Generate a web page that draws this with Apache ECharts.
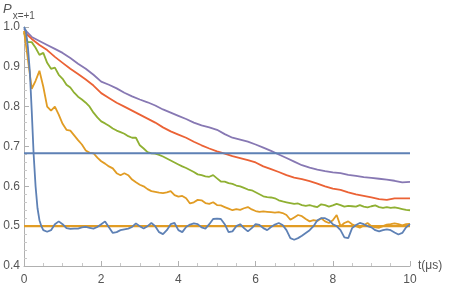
<!DOCTYPE html>
<html><head><meta charset="utf-8">
<script src="https://cdn.jsdelivr.net/npm/echarts@6/dist/echarts.min.js"></script>
<style>html,body{margin:0;padding:0;background:#fff}#c{width:450px;height:292px}</style>
</head><body><div id="c"></div>
<script>
// x ticks and y ticks
const xTicks = [0, 2, 4, 6, 8, 10];
const yTicks = [0.4, 0.5, 0.6, 0.7, 0.8, 0.9, 1.0];
// reference levels
const blueLevel = 0.683;
const orangeLevel = 0.5;
// blue curve: head sampled every 0.05 (t=0..0.5), tail every 0.1 (t=0.6..10)
const blueHead = [1.0,0.99,0.95,0.89,0.79,0.68,0.60,0.545,0.515,0.50,0.49];
const blueTail = [0.486,0.49,0.505,0.512,0.505,0.495,0.493,0.494,0.494,0.497,0.498,0.496,0.494,0.498,
 0.505,0.512,0.497,0.483,0.485,0.49,0.492,0.494,0.498,0.507,0.50,0.494,0.50,0.508,0.50,0.485,0.48,0.49,
 0.505,0.508,0.49,0.485,0.498,0.504,0.507,0.505,0.497,0.494,0.505,0.518,0.519,0.518,0.505,0.485,0.487,
 0.50,0.505,0.495,0.487,0.495,0.505,0.503,0.495,0.49,0.498,0.504,0.508,0.503,0.49,0.47,0.466,0.47,0.476,
 0.483,0.49,0.50,0.515,0.52,0.52,0.515,0.505,0.50,0.49,0.472,0.47,0.495,0.503,0.508,0.505,0.50,0.497,
 0.49,0.487,0.49,0.492,0.49,0.484,0.479,0.483,0.497,0.505];
// orange curve, t = 0..10 step 0.1
const orangeP = [0.99,0.92,0.845,0.865,0.89,0.85,0.80,0.79,0.80,0.78,0.757,0.742,0.74,0.728,0.716,0.705,
 0.69,0.684,0.683,0.672,0.663,0.657,0.65,0.645,0.633,0.628,0.633,0.628,0.617,0.61,0.604,0.60,0.593,0.588,
 0.586,0.584,0.583,0.585,0.588,0.578,0.574,0.576,0.57,0.557,0.56,0.566,0.565,0.558,0.556,0.56,0.553,0.552,
 0.548,0.544,0.54,0.543,0.541,0.545,0.548,0.542,0.538,0.536,0.537,0.536,0.535,0.534,0.535,0.533,0.528,
 0.516,0.522,0.528,0.525,0.518,0.512,0.515,0.513,0.52,0.512,0.508,0.515,0.528,0.50,0.508,0.512,0.505,
 0.50,0.496,0.502,0.508,0.50,0.497,0.496,0.50,0.504,0.505,0.507,0.505,0.502,0.505,0.506];
// green curve, t = 0..10 step 0.1
const greenP = [0.985,0.962,0.962,0.948,0.93,0.935,0.91,0.895,0.898,0.88,0.87,0.855,0.848,0.835,0.825,
 0.818,0.81,0.80,0.785,0.773,0.763,0.758,0.752,0.745,0.74,0.736,0.732,0.726,0.722,0.722,0.703,0.695,0.686,
 0.683,0.682,0.679,0.675,0.67,0.665,0.66,0.655,0.65,0.646,0.641,0.636,0.63,0.628,0.625,0.624,0.628,0.62,
 0.612,0.612,0.608,0.606,0.602,0.60,0.596,0.592,0.59,0.585,0.58,0.575,0.573,0.572,0.57,0.565,0.562,0.56,
 0.558,0.556,0.557,0.553,0.551,0.553,0.55,0.548,0.555,0.553,0.549,0.552,0.556,0.553,0.549,0.551,0.55,
 0.549,0.553,0.549,0.547,0.55,0.552,0.548,0.546,0.548,0.546,0.547,0.545,0.543,0.541,0.54];
// red curve, t = 0..10 step 0.2
const redP = [0.988,0.97,0.955,0.942,0.925,0.91,0.895,0.882,0.868,0.853,0.834,0.822,0.81,0.80,0.79,0.78,
 0.77,0.76,0.748,0.738,0.73,0.722,0.712,0.703,0.695,0.688,0.682,0.676,0.671,0.666,0.66,0.65,0.643,0.636,
 0.628,0.622,0.618,0.613,0.607,0.60,0.594,0.591,0.585,0.58,0.576,0.572,0.568,0.566,0.57,0.57,0.57];
// purple curve, t = 0..10 step 0.2
const purpleP = [0.995,0.975,0.965,0.955,0.945,0.935,0.922,0.908,0.895,0.88,0.863,0.855,0.846,0.835,0.826,
 0.818,0.811,0.803,0.793,0.785,0.777,0.769,0.76,0.753,0.748,0.742,0.731,0.722,0.717,0.712,0.705,0.697,
 0.689,0.68,0.671,0.662,0.653,0.647,0.642,0.638,0.635,0.633,0.629,0.626,0.623,0.621,0.619,0.617,0.614,
 0.61,0.611];

function pairs(vals, t0, dt){ return vals.map((v,i)=>[+(t0+i*dt).toFixed(3), v]); }

const C = {blue:'#5E81B5', orange:'#E19C24', green:'#8FB032', red:'#EB6235', purple:'#8778B3'};
const blueData = pairs(blueHead,0,0.05).concat(pairs(blueTail,0.6,0.1));
const line = (name,data,color,w)=>({name,type:'line',data,showSymbol:false,symbol:'none',
  lineStyle:{color,width:w},itemStyle:{color},animation:false,silent:true});

const chart = echarts.init(document.getElementById('c'));
chart.setOption({
  animation:false,
  grid:{left:24,right:40,top:27,bottom:26},
  xAxis:{type:'value',min:xTicks[0],max:xTicks[xTicks.length-1],interval:2,
    name:'t(μs)',nameLocation:'end',nameGap:8,
    nameTextStyle:{color:'#555',fontSize:12,fontFamily:'Liberation Sans',verticalAlign:'middle'},
    axisLine:{lineStyle:{color:'#b0b0b0',width:1}},
    axisTick:{inside:true,length:5,lineStyle:{color:'#b0b0b0'}},
    minorTick:{show:true,splitNumber:4,length:3,lineStyle:{color:'#c8c8c8'}},
    axisLabel:{color:'#555',fontSize:12,fontFamily:'Liberation Sans',margin:8},
    splitLine:{show:false}},
  yAxis:{type:'value',min:yTicks[0],max:yTicks[yTicks.length-1],interval:0.1,
    axisLine:{show:true,lineStyle:{color:'#b0b0b0',width:1}},
    axisTick:{show:true,inside:true,length:5,lineStyle:{color:'#b0b0b0'}},
    minorTick:{show:true,splitNumber:5,length:3,lineStyle:{color:'#c8c8c8'}},
    axisLabel:{color:'#555',fontSize:12,fontFamily:'Liberation Sans',margin:4,formatter:v=>v.toFixed(1)},
    splitLine:{show:false}},
  graphic:[{type:'text',left:3,top:3,style:{
    text:'{p|P}{s|x=+1}',
    rich:{p:{fontSize:13,fontStyle:'italic',fill:'#555',fontFamily:'Liberation Sans',verticalAlign:'top'},
          s:{fontSize:10,fill:'#555',fontFamily:'Liberation Sans',padding:[8,0,0,1]}}}}],
  series:[
    line('orangeLevel',[[0,orangeLevel],[10,orangeLevel]],C.orange,2.2),
    line('purple',pairs(purpleP,0,0.2),C.purple,1.8),
    line('red',pairs(redP,0,0.2),C.red,1.8),
    line('green',pairs(greenP,0,0.1),C.green,1.8),
    line('orange',pairs(orangeP,0,0.1),C.orange,1.8),
    line('blueLevel',[[0,blueLevel],[10,blueLevel]],C.blue,2.2),
    line('blue',blueData,C.blue,1.8)
  ]
});
</script></body></html>
